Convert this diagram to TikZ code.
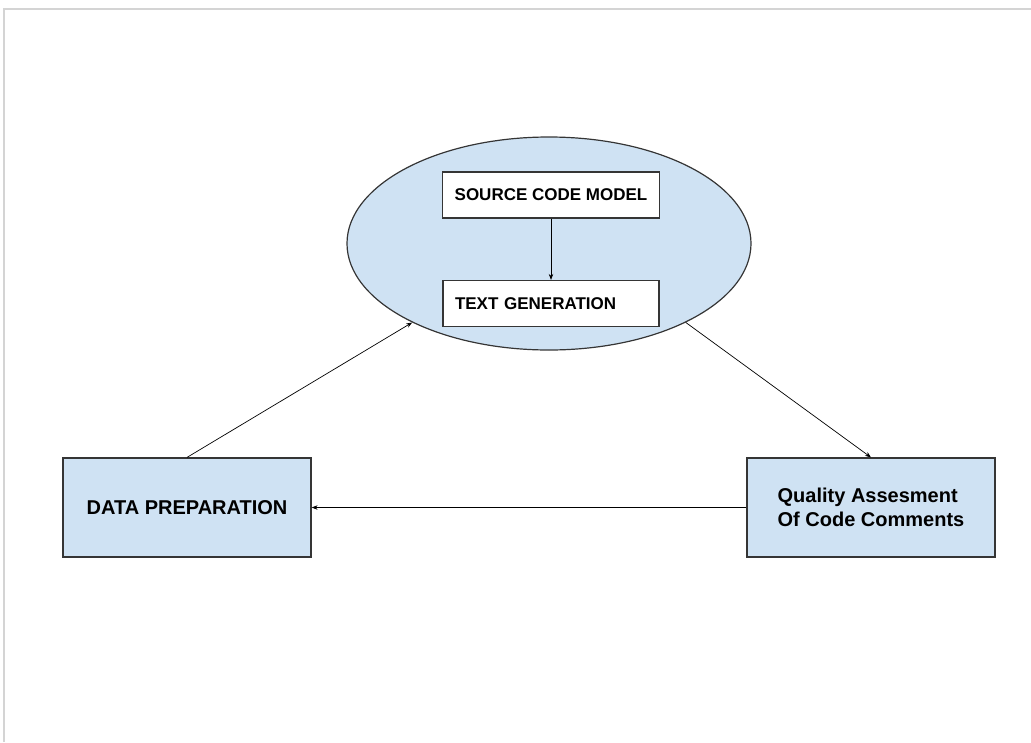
\documentclass[tikz,border=0pt]{standalone}
\usepackage{fontspec}
\setmainfont{Liberation Sans}
\usetikzlibrary{arrows.meta, shapes.geometric, positioning}
\definecolor{boxblue}{HTML}{CFE2F3}
\definecolor{edgegray}{HTML}{353535}
\definecolor{framegray}{HTML}{D4D4D4}

\begin{document}
\begin{tikzpicture}[x=1pt, y=-1pt,
    every node/.style={draw=edgegray, line width=1.2pt, inner sep=0pt, font=\bfseries},
    bigbox/.style={rectangle, fill=boxblue, minimum width=248pt, minimum height=99pt, font=\fontsize{20}{24}\selectfont\bfseries},
    smallbox/.style={rectangle, fill=white, minimum width=216pt, inner xsep=12pt, minimum height=46pt, font=\fontsize{17}{20}\selectfont\bfseries},
    link/.style={draw=black, line width=0.7pt, -{Stealth[length=6pt, width=4.5pt]}}]
    \useasboundingbox (0,0) rectangle (1031,742);

    % page frame
    \draw[framegray, line width=1.5pt] (4,742) -- (4,9) -- (1031,9);

    \node[ellipse, fill=boxblue, minimum width=404pt, minimum height=213pt] (model) at (549,243.5) {};
    \node[smallbox] (source) at (551,195) {SOURCE CODE MODEL};
    \node[smallbox, text width=192pt, align=left] (textgen) at (551,303.5) {TEXT GENERATION};
    \node[bigbox] (dataprep) at (187,507.5) {DATA PREPARATION};
    \node[bigbox, align=left] (quality) at (871,507.5) {Quality Assesment\\Of Code Comments};

    \draw[link] (source) -- (textgen);
    \draw[link] (dataprep.north) -- (model.210);
    \draw[link] (model.330) -- (quality.north);
    \draw[link] (quality.west) -- (dataprep.east);
\end{tikzpicture}
\end{document}
